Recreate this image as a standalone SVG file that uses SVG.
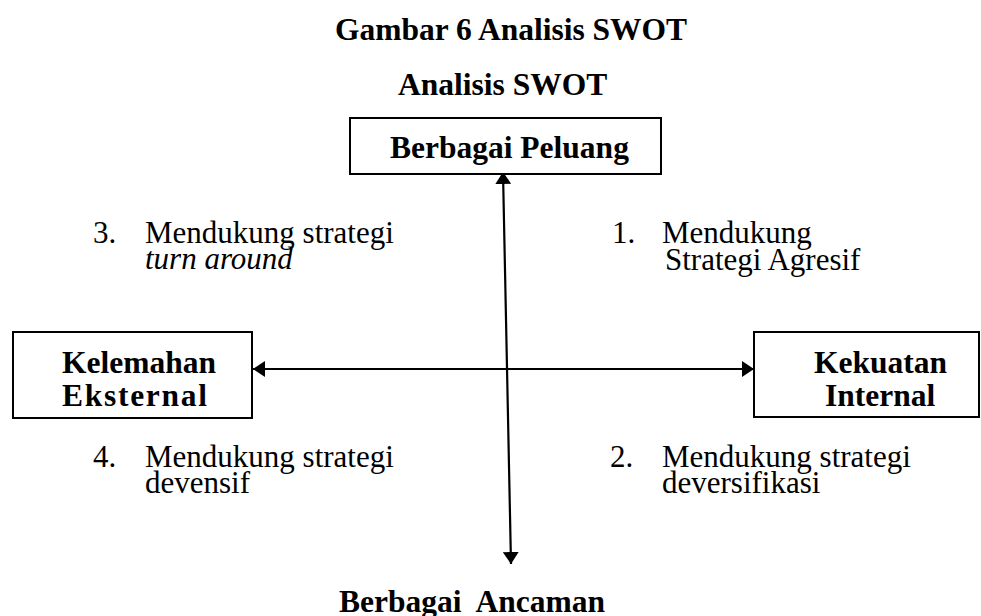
<svg xmlns="http://www.w3.org/2000/svg" width="981" height="616" viewBox="0 0 981 616">
  <style>
    text { font-family: "Liberation Serif", "Times New Roman", serif; fill: #000; }
    .b { font-weight: bold; font-size: 31.5px; }
    .r { font-size: 31px; }
    .i { font-style: italic; }
    .box { fill: #fff; stroke: #000; stroke-width: 2; }
    .link { stroke: #000; stroke-width: 2.2; fill: none; }
  </style>
  <defs>
    <marker id="head" viewBox="0 0 12 16" refX="12" refY="8" markerWidth="12" markerHeight="16" markerUnits="userSpaceOnUse" orient="auto-start-reverse">
      <path d="M0,0 L12,8 L0,16 Z" fill="#000"/>
    </marker>
  </defs>

  <!-- titles -->
  <g id="titles">
    <text class="b" x="335" y="40">Gambar 6 Analisis SWOT</text>
    <text class="b" x="398" y="95">Analisis SWOT</text>
  </g>

  <!-- axes -->
  <g id="connectors">
    <line class="link" x1="503" y1="172" x2="511" y2="564" marker-start="url(#head)" marker-end="url(#head)"/>
    <line class="link" x1="253" y1="369" x2="754" y2="369" marker-start="url(#head)" marker-end="url(#head)"/>
  </g>

  <g id="peluang">
    <rect class="box" x="350" y="118" width="311" height="56"/>
    <text class="b" x="390" y="158">Berbagai Peluang</text>
  </g>

  <g id="kelemahan">
    <rect class="box" x="13" y="332" width="239" height="86"/>
    <text class="b" x="62" y="373">Kelemahan</text>
    <text class="b" x="62" y="406" textLength="145" lengthAdjust="spacing">Eksternal</text>
  </g>

  <g id="kekuatan">
    <rect class="box" x="754" y="332" width="225" height="85"/>
    <text class="b" x="814" y="373">Kekuatan</text>
    <text class="b" x="825" y="406">Internal</text>
  </g>

  <g id="ancaman">
    <text class="b" x="605" y="612" text-anchor="end" style="white-space:pre">Berbagai  Ancaman</text>
  </g>

  <!-- quadrant notes -->
  <g id="q3">
    <text class="r" x="93" y="243">3.</text>
    <text class="r" x="145" y="243">Mendukung strategi</text>
    <text class="r i" x="145" y="269">turn around</text>
  </g>
  <g id="q1">
    <text class="r" x="612" y="243">1.</text>
    <text class="r" x="662" y="243">Mendukung</text>
    <text class="r" x="665" y="270">Strategi Agresif</text>
  </g>
  <g id="q4">
    <text class="r" x="93" y="467">4.</text>
    <text class="r" x="145" y="467">Mendukung strategi</text>
    <text class="r" x="145" y="493">devensif</text>
  </g>
  <g id="q2">
    <text class="r" x="610" y="467">2.</text>
    <text class="r" x="662" y="467">Mendukung strategi</text>
    <text class="r" x="662" y="493">deversifikasi</text>
  </g>
</svg>
